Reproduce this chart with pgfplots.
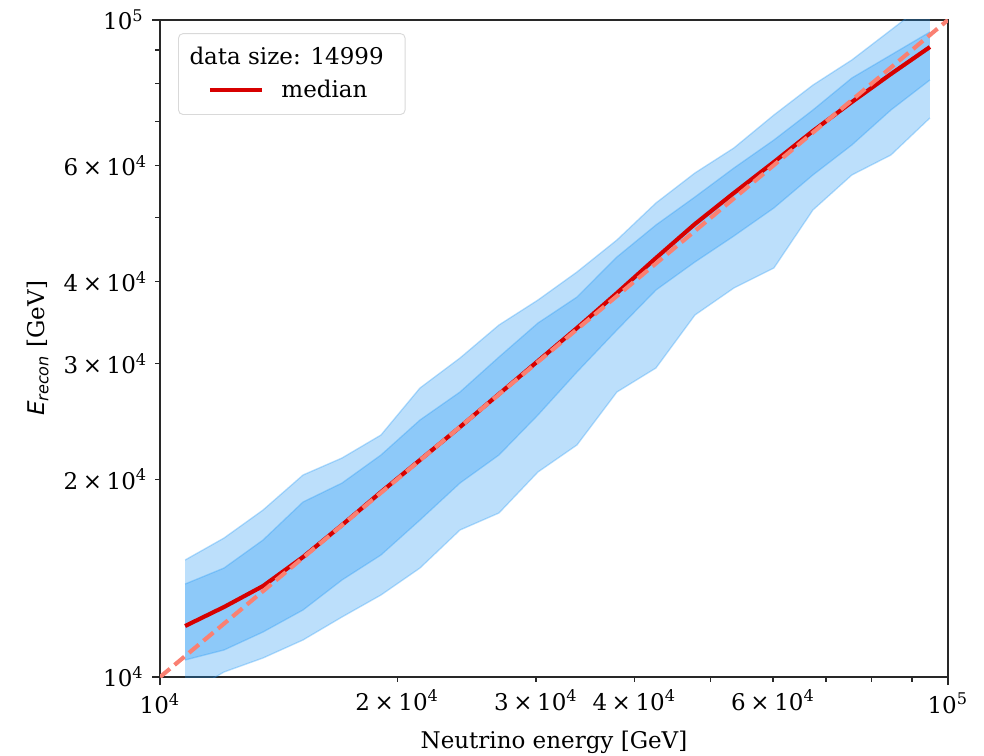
\documentclass[border=0pt]{standalone}
\usepackage{fontspec}
\setmainfont{DejaVu Serif}
\newfontfamily\dvsans{DejaVu Sans}
\usepackage{pgfplots}
\pgfplotsset{compat=1.18}
\usepackage{pgfplotstable}
\usepgfplotslibrary{fillbetween}
\definecolor{band}{RGB}{33,150,243}
\definecolor{medred}{RGB}{215,0,0}
\definecolor{salmon}{RGB}{250,128,114}
\definecolor{spine}{RGB}{40,40,40}
\newcommand{\tl}[2]{\mbox{#1\hspace{0.2em}×\hspace{0.2em}10\textsuperscript{#2}}}
\newcommand{\dl}[1]{\mbox{10\textsuperscript{#1}}}
\pgfplotstableread{
x ol il med iu ou
10760 9389 10614 11957 13853 15069
12056 10177 10993 12780 14652 16277
13512 10689 11708 13756 16163 17956
15187 11385 12647 15228 18466 20298
17020 12340 14049 17036 19737 21544
19075 13329 15335 19124 21772 23353
21376 14652 17337 21393 24613 27535
24028 16740 19737 24017 27151 30587
26928 17768 21772 26962 30694 34338
30178 20513 25049 30267 34579 37481
33821 22549 29122 33979 37878 41346
38014 27151 33742 38415 43578 46256
42603 29534 38821 43425 48751 52661
47743 35563 42823 48922 53782 58503
53504 39094 46909 54541 59527 63862
60141 41932 51746 60793 65667 71686
67408 51385 58095 67776 72953 79621
75542 58095 64536 75025 81609 86937
84664 62303 72953 82761 88465 96556
94877 70937 81041 90966 95882 107270
}\datatable
\begin{document}
\begin{tikzpicture}
\begin{axis}[
  xmode=log, ymode=log,
  scale only axis, width=342.6pt, height=285.7pt,
  xmin=10000, xmax=100000, ymin=10000, ymax=100000,
  axis line style={line width=0.8pt, spine},
  tick align=outside, xtick pos=left, ytick pos=left,
  major tick length=3.5pt, minor tick length=2pt,
  major tick style={line width=0.8pt, spine},
  minor tick style={line width=0.6pt, spine},
  xtick={10000,100000}, xticklabels={\dl{4},\dl{5}},
  ytick={10000,100000}, yticklabels={\dl{4},\dl{5}},
  minor xtick={50000,70000,80000,90000},
  minor ytick={50000,70000,80000,90000},
  extra x ticks={20000,30000,40000,60000},
  extra x tick labels={\tl{2}{4},\tl{3}{4},\tl{4}{4},\tl{6}{4}},
  extra y ticks={20000,30000,40000,60000},
  extra y tick labels={\tl{2}{4},\tl{3}{4},\tl{4}{4},\tl{6}{4}},
  extra x tick style={major tick length=2pt, major tick style={line width=0.6pt, spine}},
  extra y tick style={major tick length=2pt, major tick style={line width=0.6pt, spine}},
  xlabel={Neutrino energy [GeV]},
  ylabel={{\dvsans\itshape E\textsubscript{recon}} [GeV]},
  every axis x label/.style={at={(axis description cs:0.5,0)}, anchor=base, yshift=-31pt},
  every axis y label/.style={at={(axis description cs:-0.155,0.5)}, rotate=90, anchor=center},
  legend style={at={(0.0228,0.980)}, anchor=north west, draw=black!15, rounded corners=2pt,
    fill=white, fill opacity=0.8, text opacity=1, inner xsep=5pt, inner ysep=6pt,
    row sep=5pt, column sep=0pt, nodes={inner sep=0pt}},
  legend cell align=left,
  legend image code/.code={\path (0pt,0pt); \draw[#1] (7.8pt,0pt) -- (30.4pt,0pt); \path (38pt,0pt);},
]
\addplot[name path=ou, draw=band, draw opacity=0.3, line width=0.6pt, forget plot] table[x=x, y=ou] {\datatable};
\addplot[name path=ol, draw=band, draw opacity=0.3, line width=0.6pt, forget plot] table[x=x, y=ol] {\datatable};
\addplot[band, fill opacity=0.3, draw=none, forget plot] fill between[of=ou and ol];
\addplot[name path=iu, draw=band, draw opacity=0.3, line width=0.6pt, forget plot] table[x=x, y=iu] {\datatable};
\addplot[name path=il, draw=band, draw opacity=0.3, line width=0.6pt, forget plot] table[x=x, y=il] {\datatable};
\addplot[band, fill opacity=0.3, draw=none, forget plot] fill between[of=iu and il];
\addlegendimage{empty legend}
\addlegendentry{\hspace{-40pt}data size: 14999\kern4.3pt\null}
\addplot[medred, line width=1.8pt] table[x=x, y=med] {\datatable};
\addlegendentry{median}
\addplot[salmon, line width=1.8pt, dash pattern=on 5.6pt off 2.6pt, forget plot] coordinates {(10000,10000) (100000,100000)};
\end{axis}
\pgfresetboundingbox
\path[use as bounding box] ([shift={(-69.6pt,-34.3pt)}]current axis.south west) rectangle ([shift={(15.7pt,8.7pt)}]current axis.north east);
\end{tikzpicture}
\end{document}
